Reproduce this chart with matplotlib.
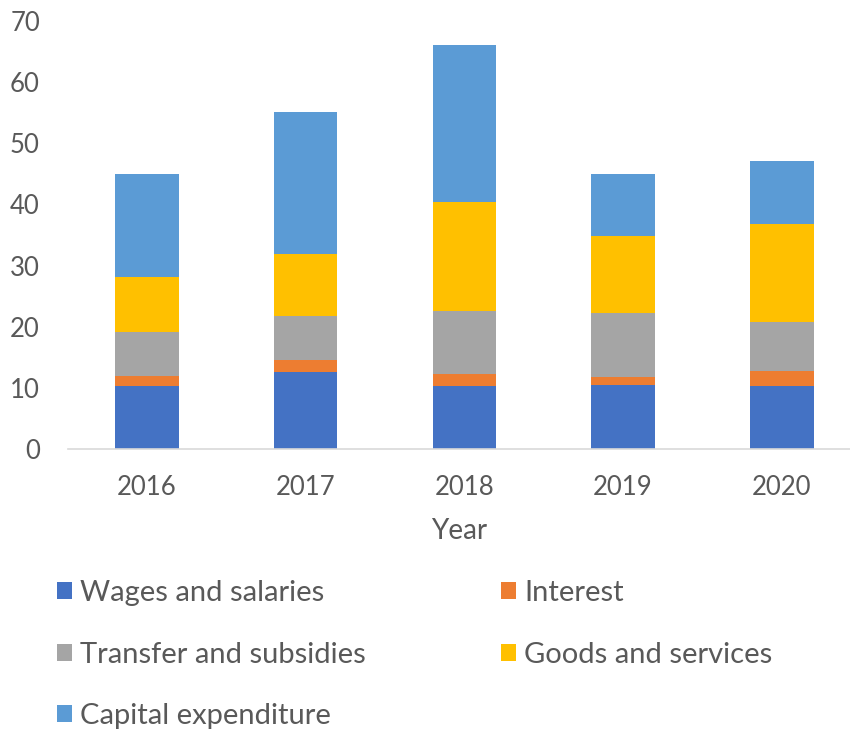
import matplotlib
matplotlib.use("Agg")
import matplotlib.pyplot as plt
from matplotlib.patches import Patch
import numpy as np

years = ["2016", "2017", "2018", "2019", "2020"]
wages = [10.3, 12.6, 10.3, 10.5, 10.3]
interest = [1.6, 2.0, 1.9, 1.2, 2.5]
transfer = [7.3, 7.2, 10.3, 10.5, 8.0]
goods = [9.0, 10.1, 17.9, 12.6, 16.0]
capital = [16.8, 23.2, 25.7, 10.1, 10.3]

series_names = ["Wages and salaries", "Interest", "Transfer and subsidies",
                "Goods and services", "Capital expenditure"]
series_values = [wages, interest, transfer, goods, capital]
colors = ["#4472C4", "#ED7D31", "#A5A5A5", "#FFC000", "#5B9BD5"]
yticks = [0, 10, 20, 30, 40, 50, 60, 70]

plt.rcParams['font.family'] = ['Lato', 'DejaVu Sans']
txt = "#595959"

fig = plt.figure(figsize=(8.5, 7.32), dpi=100)
ax = fig.add_axes([67.7 / 850, 1 - 449 / 732, 1 - 67.7 / 850, (449 - 21) / 732])

x = np.arange(len(years))
bottom = np.zeros(len(years))
for name, vals, c in zip(series_names, series_values, colors):
    ax.bar(x, vals, width=0.4, bottom=bottom, color=c, label=name)
    bottom += np.array(vals)

ax.set_xlim(-0.5, 4.43)
ax.set_ylim(0, 70)
ax.set_yticks(yticks)
ax.set_yticklabels([str(t) for t in yticks])
ax.set_xticks(x)
ax.set_xticklabels(years)
ax.tick_params(axis='both', length=0, labelsize=18.5, colors=txt)
ax.tick_params(axis='y', pad=20)
ax.tick_params(axis='x', pad=19)
for s in ["top", "right", "left"]:
    ax.spines[s].set_visible(False)
ax.spines["bottom"].set_color("#d9d9d9")
ax.spines["bottom"].set_linewidth(1.2)
ax.set_xlabel("Year", fontsize=20, color=txt, labelpad=13)

def mk(name, c):
    return Patch(facecolor=c, edgecolor='none', label=name)

col1 = [(series_names[0], colors[0]), (series_names[2], colors[2]), (series_names[4], colors[4])]
col2 = [(series_names[1], colors[1]), (series_names[3], colors[3])]

common = dict(frameon=False, fontsize=21, labelcolor=txt, handlelength=0.52,
              handleheight=0.52, handletextpad=0.28, labelspacing=1.22,
              borderpad=0, borderaxespad=0, loc='upper left')
fig.legend(handles=[mk(n, c) for n, c in col1], bbox_to_anchor=(57 / 850, 1 - 580 / 732), **common)
fig.legend(handles=[mk(n, c) for n, c in col2], bbox_to_anchor=(501 / 850, 1 - 580 / 732), **common)

fig.savefig("out.png", dpi=100)
